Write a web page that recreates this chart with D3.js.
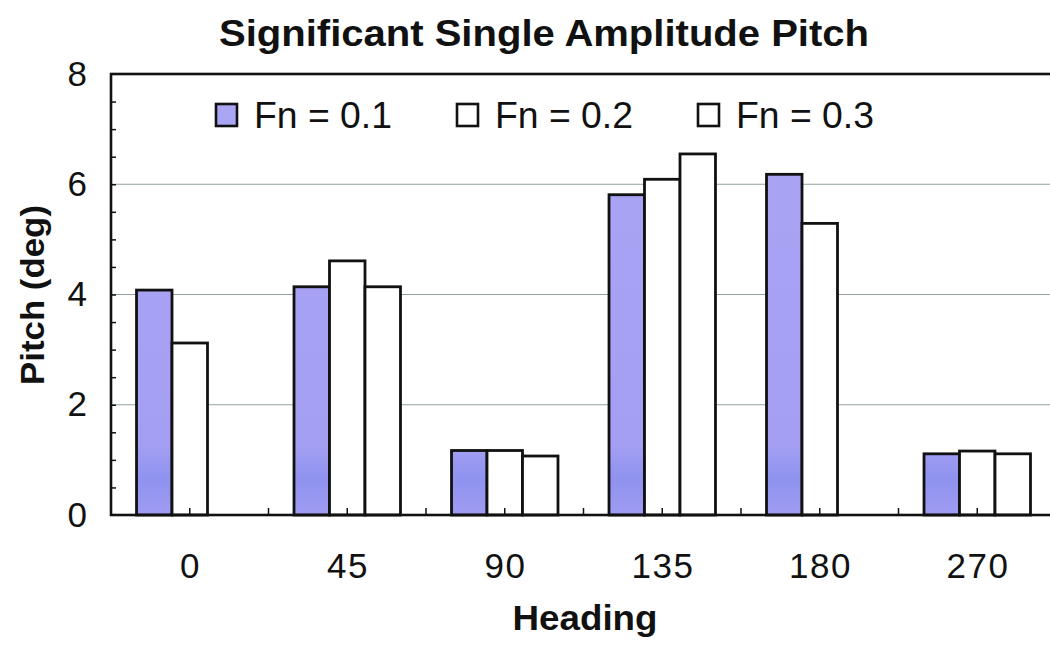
<!DOCTYPE html>
<html>
<head>
<meta charset="utf-8">
<script src="https://cdn.jsdelivr.net/npm/d3@7"></script>
<style>
  html, body { margin: 0; padding: 0; background: #fff; }
  svg { display: block; font-family: "Liberation Sans", Arial, sans-serif; }
</style>
</head>
<body>
<svg id="chart" width="1050" height="646"></svg>
<script>
// Headings (deg) along the x axis
const headings = ["0", "45", "90", "135", "180", "270"];
// Froude number series
const seriesNames = ["Fn = 0.1", "Fn = 0.2", "Fn = 0.3"];
// Significant single amplitude pitch (deg); null where no run exists
const fn01 = [4.08, 4.14, 1.17, 5.81, 6.18, 1.11];
const fn02 = [3.12, 4.61, 1.17, 6.09, 5.29, 1.16];
const fn03 = [null, 4.14, 1.07, 6.55, null, 1.11];
const yTicks = [0, 2, 4, 6, 8];

const seriesValues = [fn01, fn02, fn03];
const seriesFill = ["url(#fnPurple)", "#ffffff", "#ffffff"];
const legendFill = ["#aaa6f4", "#ffffff", "#ffffff"];

const svg = d3.select("#chart");

// Lavender fill that deepens slightly towards the base of each bar
const defs = svg.append("defs");
const grad = defs.append("linearGradient")
  .attr("id", "fnPurple").attr("gradientUnits", "userSpaceOnUse")
  .attr("x1", 0).attr("x2", 0).attr("y1", 74).attr("y2", 515);
grad.append("stop").attr("offset", "0%").attr("stop-color", "#aaa5f4");
grad.append("stop").attr("offset", "84%").attr("stop-color", "#a49ff2");
grad.append("stop").attr("offset", "92%").attr("stop-color", "#8f92ef");
grad.append("stop").attr("offset", "100%").attr("stop-color", "#a09cf2");

const plot = { left: 111, right: 1056, top: 74, bottom: 515 };

const x0 = d3.scaleBand().domain(headings).range([plot.left, plot.right]).padding(0);
const groupFrac = 0.676;
const x1 = d3.scaleBand().domain(seriesNames)
  .range([0, x0.bandwidth()])
  .paddingInner(0)
  .paddingOuter((3 / groupFrac - 3) / 2);
const y = d3.scaleLinear().domain([0, 8]).range([plot.bottom, plot.top]);

// Title
svg.append("text")
  .attr("x", 544).attr("y", 46)
  .attr("text-anchor", "middle")
  .attr("font-size", 37).attr("font-weight", "bold")
  .attr("textLength", 650).attr("lengthAdjust", "spacingAndGlyphs")
  .attr("fill", "#111")
  .text("Significant Single Amplitude Pitch");

// Horizontal gridlines
svg.append("g")
  .selectAll("line")
  .data(yTicks.filter(d => d > 0 && d < 8))
  .join("line")
  .attr("x1", plot.left).attr("x2", plot.right)
  .attr("y1", d => y(d)).attr("y2", d => y(d))
  .attr("stroke", "#95a29e").attr("stroke-width", 1.2);

// Bars
const groups = svg.append("g")
  .selectAll("g")
  .data(headings)
  .join("g")
  .attr("transform", d => `translate(${x0(d)},0)`);

groups.selectAll("rect")
  .data((h, i) => seriesNames.map((s, k) => ({ s, k, v: seriesValues[k][i] })).filter(d => d.v != null))
  .join("rect")
  .attr("x", d => x1(d.s))
  .attr("width", x1.bandwidth())
  .attr("y", d => y(d.v))
  .attr("height", d => y(0) - y(d.v))
  .attr("fill", d => seriesFill[d.k])
  .attr("stroke", "#111")
  .attr("stroke-width", 2.8);

// Plot frame
svg.append("rect")
  .attr("x", plot.left).attr("y", plot.top)
  .attr("width", plot.right - plot.left).attr("height", plot.bottom - plot.top)
  .attr("fill", "none").attr("stroke", "#111").attr("stroke-width", 2.6);

// Y axis: labels plus inward minor ticks every 0.5
const yAxis = svg.append("g")
  .attr("transform", `translate(${plot.left},0)`)
  .call(d3.axisLeft(y).tickValues(yTicks).tickSize(0).tickPadding(24).tickFormat(d3.format("d")));
yAxis.select(".domain").remove();
yAxis.selectAll("text")
  .attr("font-size", 35).attr("fill", "#111")
  .attr("font-family", "Liberation Sans, Arial, sans-serif");

const yMinor = svg.append("g")
  .attr("transform", `translate(${plot.left},0)`)
  .call(d3.axisRight(y).tickValues(d3.range(0.5, 8, 0.5)).tickSize(5).tickFormat(""));
yMinor.select(".domain").remove();
yMinor.selectAll("line").attr("stroke", "#111").attr("stroke-width", 1.5);

// X axis: labels at band centres, inward ticks at centres and band edges
const xAxis = svg.append("g")
  .attr("transform", `translate(0,${plot.bottom})`)
  .call(d3.axisBottom(x0).tickSize(0).tickPadding(38));
xAxis.select(".domain").remove();
xAxis.selectAll("text")
  .attr("font-size", 35).attr("fill", "#111")
  .attr("letter-spacing", 1.5).attr("dx", 0.75)
  .attr("font-family", "Liberation Sans, Arial, sans-serif");

const xTickPos = [];
headings.forEach(h => {
  xTickPos.push(x0(h) + x0.bandwidth() / 2);
  xTickPos.push(x0(h) + x0.bandwidth());
});
svg.append("g")
  .selectAll("line")
  .data(xTickPos)
  .join("line")
  .attr("x1", d => d).attr("x2", d => d)
  .attr("y1", plot.bottom).attr("y2", plot.bottom - 7)
  .attr("stroke", "#111").attr("stroke-width", 1.5);

// Axis titles
svg.append("text")
  .attr("transform", "translate(44,295) rotate(-90)")
  .attr("text-anchor", "middle")
  .attr("font-size", 34).attr("font-weight", "bold")
  .attr("textLength", 180).attr("lengthAdjust", "spacingAndGlyphs")
  .attr("fill", "#111")
  .text("Pitch (deg)");

svg.append("text")
  .attr("x", 585).attr("y", 630)
  .attr("text-anchor", "middle")
  .attr("font-size", 35).attr("font-weight", "bold")
  .attr("textLength", 145).attr("lengthAdjust", "spacingAndGlyphs")
  .attr("fill", "#111")
  .text("Heading");

// Legend
const legend = svg.append("g");
const legendItems = legend.selectAll("g")
  .data(seriesNames)
  .join("g")
  .attr("transform", (d, i) => `translate(${216 + i * 241},104)`);
legendItems.append("rect")
  .attr("x", 0).attr("y", 0).attr("width", 21).attr("height", 22)
  .attr("fill", (d, i) => legendFill[i])
  .attr("stroke", "#111").attr("stroke-width", 2.6);
legendItems.append("text")
  .attr("x", 38).attr("y", 24)
  .attr("font-size", 36).attr("fill", "#111")
  .attr("textLength", 138).attr("lengthAdjust", "spacingAndGlyphs")
  .text(d => d);
</script>
</body>
</html>
